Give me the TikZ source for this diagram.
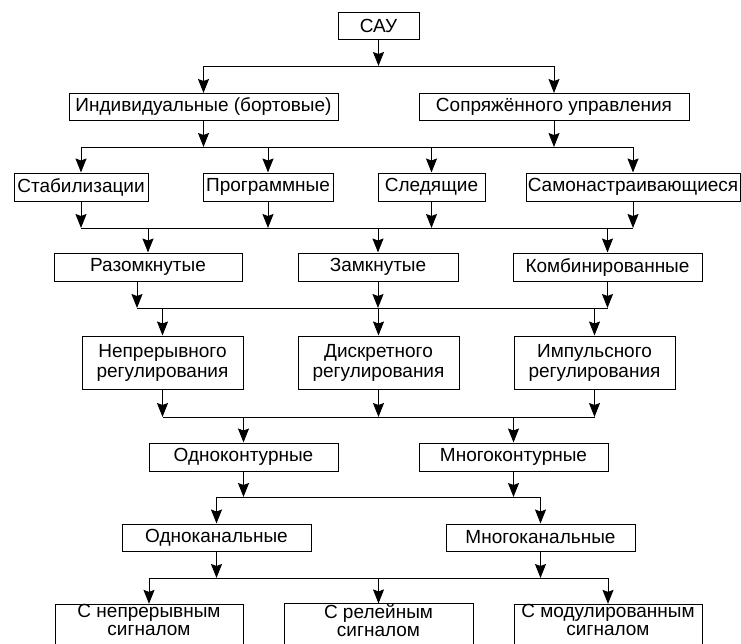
\documentclass[tikz,border=0pt]{standalone}
\usepackage{fontspec}
\setmainfont{Liberation Sans}
\usetikzlibrary{arrows.meta}
\begin{document}
\begin{tikzpicture}[x=1pt,y=-1pt, line width=1pt,
  box/.style={draw, inner sep=0pt, align=center, minimum height=27pt, font=\fontsize{19}{20}\selectfont},
  lowbox/.style={box, minimum height=40pt, text depth=10pt, font=\fontsize{19}{18}\selectfont},
  arr/.style={-{Stealth[length=14pt,width=11pt,inset=2pt]}}]
\clip (0,0) rectangle (741,643);
% level 0 and 1
\node[box, minimum width=81pt] (sau) at (378.5,26){САУ};
\node[box, minimum width=269pt] (ind) at (203.5,107){Индивидуальные (бортовые)};
\node[box, minimum width=270pt] (sopr) at (554,107){Сопряжённого управления};
\coordinate (h1) at (378.5,66);
\draw[arr](sau) -- (h1);
\draw[](ind.north |- h1) -- (sopr.north |- h1);
\draw[arr](ind.north |- h1) -- (ind);
\draw[arr](sopr.north |- h1) -- (sopr);
% level 2
\node[box, minimum width=134pt, minimum height=28pt] (stab) at (81,187){Стабилизации};
\node[box, minimum width=130pt, minimum height=28pt] (prog) at (268,187){Программные};
\node[box, minimum width=107pt, minimum height=28pt] (sled) at (431.5,187){Следящие};
\node[box, minimum width=214pt, minimum height=28pt] (samo) at (633,187){Самонастраивающиеся};
\coordinate (h2) at (0,147);
\draw[arr](ind) -- (ind.south |- h2);
\draw[arr](sopr) -- (sopr.south |- h2);
\draw[](stab.north |- h2) -- (samo.north |- h2);
\draw[arr](stab.north |- h2) -- (stab);
\draw[arr](prog.north |- h2) -- (prog);
\draw[arr](sled.north |- h2) -- (sled);
\draw[arr](samo.north |- h2) -- (samo);
% level 3
\node[box, minimum width=188pt, minimum height=28pt] (raz) at (148,267){Разомкнутые};
\node[box, minimum width=160pt, minimum height=28pt] (zam) at (378,267){Замкнутые};
\node[box, minimum width=189pt, minimum height=28pt] (komb) at (607.5,267){Комбинированные};
\coordinate (h3) at (0,228);
\draw[arr](stab) -- (stab.south |- h3);
\draw[arr](prog) -- (prog.south |- h3);
\draw[arr](sled) -- (sled.south |- h3);
\draw[arr](samo) -- (samo.south |- h3);
\draw[](stab.south |- h3) -- (samo.south |- h3);
\draw[arr](raz.north |- h3) -- (raz);
\draw[arr](zam.north |- h3) -- (zam);
\draw[arr](komb.north |- h3) -- (komb);
% level 4
\node[box, minimum width=161pt, minimum height=53pt] (nepr) at (162.5,362.5){Непрерывного\\регулирования};
\node[box, minimum width=161pt, minimum height=53pt] (diskr) at (378.5,362.5){Дискретного\\регулирования};
\node[box, minimum width=161pt, minimum height=53pt] (imp) at (594.5,362.5){Импульсного\\регулирования};
\coordinate (h4) at (0,308);
\coordinate (r4) at ([xshift=-11pt]raz.south);
\draw[arr](r4) -- (r4 |- h4);
\draw[arr](zam) -- (zam.south |- h4);
\draw[arr](komb) -- (komb.south |- h4);
\draw[](r4 |- h4) -- (komb.south |- h4);
\draw[arr](nepr.north |- h4) -- (nepr);
\draw[arr](diskr.north |- h4) -- (diskr);
\draw[arr](imp.north |- h4) -- (imp);
% level 5
\node[box, minimum width=189pt, minimum height=28pt] (okont) at (243.5,457){Одноконтурные};
\node[box, minimum width=189pt, minimum height=28pt] (mkont) at (513.5,457){Многоконтурные};
\coordinate (h5) at (0,417);
\draw[arr](nepr) -- (nepr.south |- h5);
\draw[arr](diskr) -- (diskr.south |- h5);
\draw[arr](imp) -- (imp.south |- h5);
\draw[](nepr.south |- h5) -- (imp.south |- h5);
\draw[arr](okont.north |- h5) -- (okont);
\draw[arr](mkont.north |- h5) -- (mkont);
% level 6
\node[box, minimum width=189pt] (okan) at (216.5,537.5){Одноканальные};
\node[box, minimum width=189pt] (mkan) at (540.5,537.5){Многоканальные};
\coordinate (h6) at (0,497);
\draw[arr](okont) -- (okont.south |- h6);
\draw[arr](mkont) -- (mkont.south |- h6);
\draw[](okan.north |- h6) -- (mkan.north |- h6);
\draw[arr](okan.north |- h6) -- (okan);
\draw[arr](mkan.north |- h6) -- (mkan);
% level 7
\node[lowbox, minimum width=188pt] (snep) at (149,625){С непрерывным\\сигналом};
\node[lowbox, minimum width=189pt] (srel) at (378.5,625){С релейным\\сигналом};
\node[lowbox, minimum width=188pt] (smod) at (608,625){С модулированным\\сигналом};
\coordinate (h7) at (0,578);
\draw[arr](okan) -- (okan.south |- h7);
\draw[arr](mkan) -- (mkan.south |- h7);
\draw[](snep.north |- h7) -- (smod.north |- h7);
\draw[arr](snep.north |- h7) -- (snep);
\draw[arr](srel.north |- h7) -- (srel);
\draw[arr](smod.north |- h7) -- (smod);
\end{tikzpicture}
\end{document}
